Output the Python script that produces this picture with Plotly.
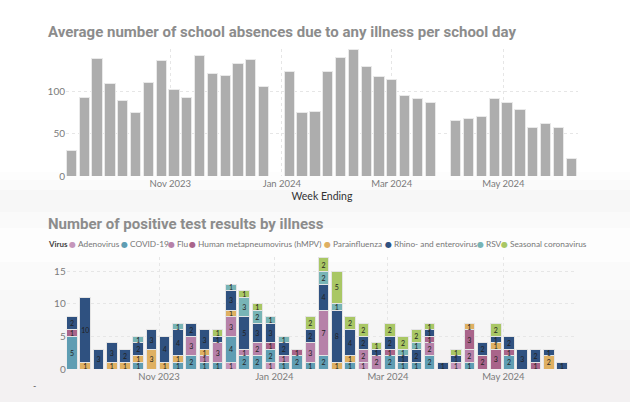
import plotly.graph_objects as go

W, H = 630, 402

# top chart: week ending fridays, gaps are school holidays
absence_weeks = [
    '2023-09-08', '2023-09-15', '2023-09-22', '2023-09-29', '2023-10-06', '2023-10-13',
    '2023-10-20', '2023-10-27', '2023-11-03', '2023-11-10', '2023-11-17', '2023-11-24',
    '2023-12-01', '2023-12-08', '2023-12-15', '2023-12-22',
    '2024-01-05', '2024-01-12', '2024-01-19', '2024-01-26', '2024-02-02', '2024-02-09',
    '2024-02-16', '2024-02-23', '2024-03-01', '2024-03-08', '2024-03-15', '2024-03-22',
    '2024-04-05', '2024-04-12', '2024-04-19', '2024-04-26', '2024-05-03', '2024-05-10',
    '2024-05-17', '2024-05-24', '2024-05-31', '2024-06-07',
]
absences = [
    30, 93, 139, 110, 90, 75, 111, 137, 102, 93, 143, 122, 119, 134, 138, 106,
    124, 75, 76, 124, 141, 150, 130, 118, 115, 96, 92, 87,
    66, 68, 70, 92, 87, 79, 57, 62, 57, 21,
]

# bottom chart: week ending saturdays
test_weeks = [
    '2023-09-16', '2023-09-23', '2023-09-30', '2023-10-07', '2023-10-14', '2023-10-21',
    '2023-10-28', '2023-11-04', '2023-11-11', '2023-11-18', '2023-11-25', '2023-12-02',
    '2023-12-09', '2023-12-16', '2023-12-23', '2023-12-30', '2024-01-06', '2024-01-13',
    '2024-01-20', '2024-01-27', '2024-02-03', '2024-02-10', '2024-02-17', '2024-02-24',
    '2024-03-02', '2024-03-09', '2024-03-16', '2024-03-23', '2024-03-30', '2024-04-06',
    '2024-04-13', '2024-04-20', '2024-04-27', '2024-05-04', '2024-05-11', '2024-05-18',
    '2024-05-25', '2024-06-01',
]
_ = None
adenovirus = [_, _, _, _, _, _, _, _, _, _, _, _, 1, _, _, 1, _, _, _, _, _, _, 1, _, _, _, _, _, _, 1, _, _, _, _, _, _, _, _]
covid = [5, _, _, _, _, 1, _, _, 1, 2, 1, 1, 4, 2, 2, 2, 1, 2, 1, 2, _, 1, _, _, 2, 1, 1, 2, _, _, 1, _, _, 2, _, _, _, _]
flu = [_, _, _, _, _, _, _, _, _, 3, 1, 3, 3, 1, 2, _, 1, _, 3, 7, _, _, 2, 2, _, _, _, 2, _, _, 2, _, _, _, _, _, _, _]
hmpv = [1, _, _, _, _, _, _, _, _, _, _, _, _, _, _, 1, _, 1, _, _, _, _, _, _, 1, _, _, 1, _, _, 3, 2, 3, 1, _, 1, _, _]
parainfluenza = [_, 1, _, 1, 1, 1, 3, 1, 1, _, 1, _, 1, _, _, _, _, _, _, _, 1, 1, _, _, _, _, _, _, _, _, 1, _, 1, _, _, _, 2, _]
rhino = [2, 10, 3, 3, 2, 2, 3, 4, 4, 2, 3, 1, 3, 5, 3, 3, 2, _, 2, 4, 8, 4, 2, 1, 2, 1, 2, 1, 1, 1, _, 2, 1, 2, 3, 2, 1, 1]
rsv = [_, _, _, _, _, 1, _, _, 1, _, _, _, 1, 3, 2, 1, 1, _, _, 2, 1, _, _, _, _, 1, 1, _, _, _, _, _, _, _, _, _, _, _]
seasonal = [_, _, _, _, _, _, _, _, _, _, _, 1, _, 1, 1, _, _, _, 2, 2, 5, 2, 2, 1, 2, 2, 2, 1, _, 1, _, _, 2, _, _, _, _, _]

virus_names = ['Adenovirus', 'COVID-19', 'Flu', 'Human metapneumovirus (hMPV)',
               'Parainfluenza', 'Rhino- and enterovirus', 'RSV', 'Seasonal coronavirus']
virus_values = [adenovirus, covid, flu, hmpv, parainfluenza, rhino, rsv, seasonal]
virus_colors = ['#c596bb', '#5f9db3', '#b681a9', '#a9648a',
                '#dfb062', '#2f5180', '#78b4b6', '#a9c765']
# legend dot centre, pixels from the left
legend_px = [72, 124, 171, 192, 327, 388, 480, 504]

GRID = '#e6e6e6'
TICK = '#7b7b7b'
FONT = 'Lato'
TITLE_FONT = dict(family='Roboto', size=15, color='#8c8c8c')

fig = go.Figure()

fig.add_trace(go.Bar(x=absence_weeks, y=absences, xaxis='x', yaxis='y',
                     marker=dict(color='#adadad', line=dict(color='#e9e9e9', width=1)),
                     showlegend=False))

for name, vals, color in zip(virus_names, virus_values, virus_colors):
    fig.add_trace(go.Bar(x=test_weeks, y=vals, name=name, xaxis='x2', yaxis='y2',
                         text=vals, textposition='inside', textangle=0,
                         insidetextanchor='middle', constraintext='none',
                         textfont=dict(family=FONT, size=7, color='#222222'),
                         marker=dict(color=color, line=dict(color='#e4e4e4', width=1)),
                         showlegend=False))

# faint grey wash behind the lower part of the page
bands = [(172, 180, '#fdfdfd'), (180, 190, '#fafafa'), (190, 212, '#f7f7f7'), (212, 228, '#fafafa'),
         (228, 262, '#fdfdfd'), (262, 290, '#fafafa'), (290, 320, '#f8f8f8'), (320, 350, '#f5f5f5'),
         (350, 402, '#f3f1f2')]
shapes = [dict(type='rect', xref='paper', yref='paper', x0=0, x1=1,
               y0=1 - b[1] / H, y1=1 - b[0] / H, fillcolor=b[2], line_width=0, layer='below')
          for b in bands]

annotations = [
    dict(text='<b>Average number of school absences due to any illness per school day</b>',
         x=47 / W, y=1 - 32 / H, font=TITLE_FONT),
    dict(text='<b>Number of positive test results by illness</b>',
         x=47 / W, y=1 - 224 / H, font=TITLE_FONT),
    dict(text='<b>Virus</b>', x=47 / W, y=1 - 244 / H, font=dict(family=FONT, size=8, color='#444444')),
    dict(text='-', x=32 / W, y=1 - 385 / H, font=dict(family=FONT, size=9, color='#555555')),
]
for name, color, px in zip(virus_names, virus_colors, legend_px):
    annotations.append(dict(text='●', x=(px - 4) / W, y=1 - 244 / H,
                            font=dict(family='DejaVu Sans', size=8, color=color)))
    annotations.append(dict(text=name, x=(px + 5) / W, y=1 - 244 / H,
                            font=dict(family=FONT, size=8.3, color='#777777')))
for a in annotations:
    a.update(xref='paper', yref='paper', xanchor='left', yanchor='middle', showarrow=False)
    a.update(borderpad=0, xshift=0)

xcommon = dict(type='date', dtick='M2', tick0='2023-11-01', tickformat='%b %Y', ticks='',
               automargin=False,
               showgrid=True, gridcolor=GRID, griddash='dot', zeroline=False, showline=False,
               tickfont=dict(family=FONT, size=9.5, color=TICK))
ycommon = dict(automargin=False, showgrid=True, gridcolor=GRID, griddash='dot', zeroline=False,
               showline=False, ticks='',
               tickfont=dict(family=FONT, size=10, color=TICK))

fig.update_layout(
    width=W, height=H,
    margin=dict(l=0, r=0, t=0, b=0),
    paper_bgcolor='white', plot_bgcolor='rgba(0,0,0,0)',
    barmode='stack', bargap=0.2,
    showlegend=False,
    shapes=shapes,
    annotations=annotations,
    xaxis=dict(domain=[66 / W, 578 / W], range=['2023-09-05', '2024-06-10 18:00'],
               anchor='y',
               title=dict(text='Week Ending', standoff=5, font=dict(family=FONT, size=10.5, color='#333333')),
               **xcommon),
    yaxis=dict(domain=[1 - 176 / H, 1 - 49 / H], range=[0, 150.6], tickvals=[0, 50, 100], anchor='x', **ycommon),
    xaxis2=dict(domain=[66.7 / W, 577 / W], range=['2023-09-13 05:00', '2024-06-08 22:00'],
                anchor='y2', **xcommon),
    yaxis2=dict(domain=[1 - 369 / H, 1 - 257 / H], range=[0, 17.15], tickvals=[0, 5, 10, 15], anchor='x2', **ycommon),
)

fig.write_html("out.html", config={'displayModeBar': False},
               post_script="document.body.style.margin='0';")
